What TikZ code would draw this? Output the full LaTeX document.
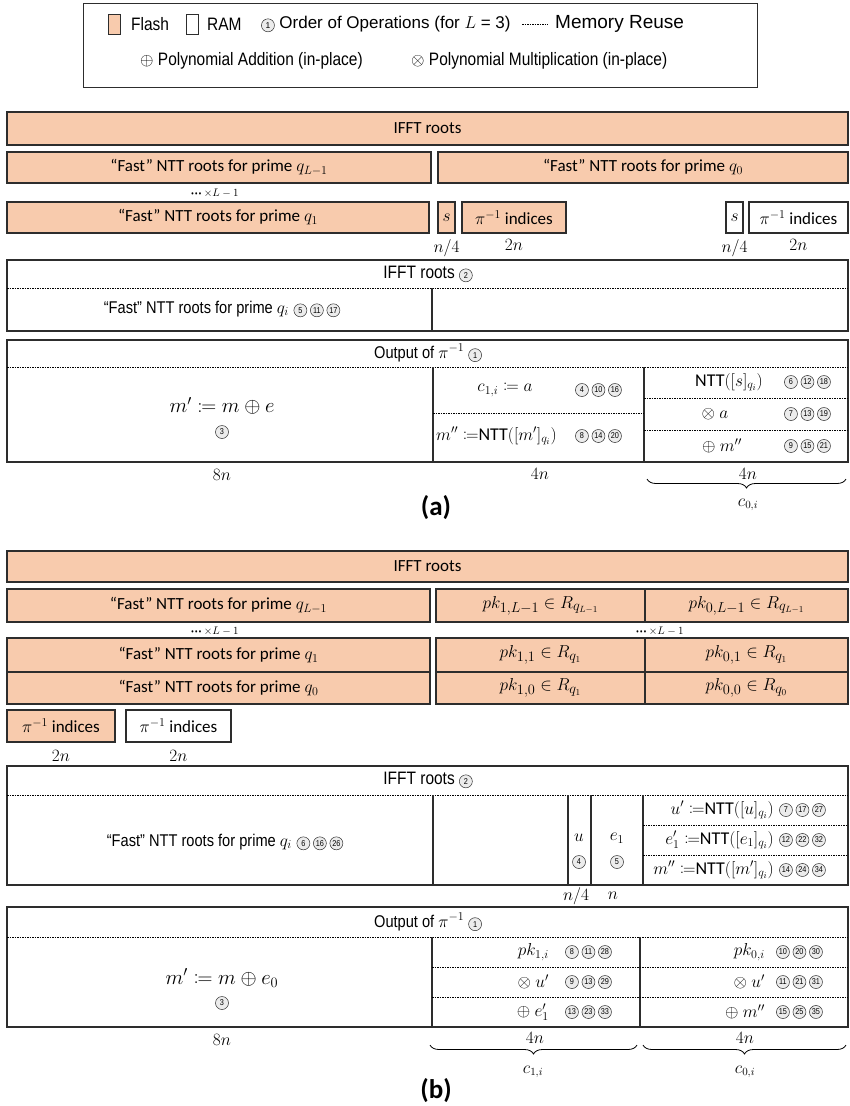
\documentclass[tikz,border=0pt]{standalone}
\usepackage{mathtools}
\usepackage{fontspec}
\setmainfont{Liberation Sans}[FakeStretch=0.86]
\newfontfamily\calib{Carlito}
\newfontfamily\lgdwide{Liberation Sans}
\usetikzlibrary{positioning, decorations.pathreplacing}
\definecolor{flashfill}{RGB}{248,203,173}
\definecolor{edge}{RGB}{45,45,45}
\definecolor{opfill}{RGB}{236,236,236}

% circled order numbers
\newcommand{\opn}[1]{\tikz[baseline=(op.base)]\node[opcirc] (op) {#1};}
\newcommand{\ops}[3]{\opn{#1}\hspace{3pt}\opn{#2}\hspace{3pt}\opn{#3}}
\newcommand{\repl}{{\fontsize{8}{9}\selectfont\textbullet\,\textbullet\,\textbullet}\ $\times L-1$}
\newcommand{\ntt}{{\calib NTT}}

\begin{document}
\begin{tikzpicture}[x=1pt, y=-1pt,
  font=\fontsize{18}{21}\selectfont,
  cellf/.style={draw=edge, line width=1.2pt, fill=flashfill, anchor=north west, inner sep=0pt, outer sep=0pt, font=\calib\fontsize{17}{20}\selectfont},
  cellr/.style={cellf, fill=white},
  pkcell/.style={cellf, font=\fontsize{19}{22}\selectfont},
  blk/.style={draw=edge, line width=1.2pt, anchor=north west, inner sep=0pt, outer sep=0pt},
  reuse/.style={line width=0.6pt, dash pattern=on 1.5pt off 1pt},
  divider/.style={line width=1.2pt, draw=edge},
  sz/.style={font=\fontsize{16}{18}\selectfont, inner sep=0pt},
  small/.style={font=\fontsize{11}{13}\selectfont, inner sep=0pt},
  rootq/.style={font=\fontsize{17}{20}\selectfont},
  bigm/.style={font=\fontsize{20}{23}\selectfont},
  brc/.style={decorate, decoration={brace, mirror, amplitude=9pt}, line width=0.8pt},
  opcirc/.style={circle, draw=edge, fill=opfill, line width=0.5pt, inner sep=0pt, anchor=center, minimum size=13pt, font=\fontsize{8.5}{9}\selectfont},
  tag/.style={font=\calib\bfseries\fontsize{27}{30}\selectfont},
]
\useasboundingbox (0,0) rectangle (849,1106);

% legend
\node[blk, line width=1pt, minimum width=674pt, minimum height=84pt] (legend) at (83,3) {};
\node[cellf, line width=1pt, minimum width=12pt, minimum height=20pt] (keyflash) at (108,14) {};
\node[right=11pt of keyflash, inner sep=0pt] (lflash) {Flash};
\node[cellr, line width=1pt, minimum width=12pt, minimum height=20pt] (keyram) at (186,14) {};
\node[right=9pt of keyram, inner sep=0pt] (lram) {RAM};
\node[anchor=west, inner sep=0pt, font=\lgdwide\fontsize{17}{20}\selectfont] (lorder) at (261,24) {\opn{1}\ Order of Operations (for $L$ = 3)};
\draw[reuse] (522,24) -- (548,24);
\node[anchor=west, inner sep=0pt, font=\lgdwide\fontsize{19}{22}\selectfont] (lreuse) at (555,24) {Memory Reuse};
\node[anchor=west, inner sep=0pt] (ladd) at (140,61) {$\oplus$ Polynomial Addition (in-place)};
\node[anchor=west, inner sep=0pt] (lmul) at (411,61) {$\otimes$ Polynomial Multiplication (in-place)};

% (a) flash
\node[cellf, minimum width=841pt, minimum height=33pt] (iffta) at (7,112) {IFFT roots};
\node[cellf, minimum width=424pt, minimum height=31pt] (nttaL) at (7,152) {“Fast” NTT roots for prime $q_{L-1}$};
\node[cellf, minimum width=410pt, minimum height=31pt] (ntta0) at (438,152) {“Fast” NTT roots for prime $q_0$};
\node[small] (dotsa) at (215,193) {\repl};
\node[cellf, minimum width=422pt, minimum height=31pt] (ntta1) at (7,202) {“Fast” NTT roots for prime $q_1$};
\node[cellf, minimum width=17pt, minimum height=31pt] (sa) at (438,202) {$s$};
\node[cellf, minimum width=104pt, minimum height=31pt] (pia) at (462,202) {$\pi^{-1}$ indices};
\node[sz, below=6pt of sa] (sasz) {$n/4$};
\node[sz, below=6pt of pia] (piasz) {$2n$};
\node[cellr, minimum width=17pt, minimum height=31pt] (sb) at (726,202) {$s$};
\node[cellr, minimum width=99pt, minimum height=31pt] (pib) at (749,202) {$\pi^{-1}$ indices};
\node[sz, below=6pt of sb] (sbsz) {$n/4$};
\node[sz, below=6pt of pib] (pibsz) {$2n$};

% (a) RAM
\node[blk, minimum width=841pt, minimum height=71pt] (ramA1) at (7,260) {};
\node (a1top) at (428,274) {IFFT roots \opn{2}};
\draw[reuse] (7,288) -- (848,288);
\draw[divider] (432,288) -- (ramA1.south -| 432,0);
\node[rootq] (a1ntt) at (222,309) {“Fast” NTT roots for prime $q_i$\;\ops{5}{11}{17}};

\node[blk, minimum width=841pt, minimum height=122pt] (ramA2) at (7,340) {};
\node[font=\fontsize{17}{20}\selectfont] (a2top) at (428,353) {Output of $\pi^{-1}$ \opn{1}};
\draw[reuse] (7,367) -- (848,367);
\draw[divider] (433,367) -- (ramA2.south -| 433,0);
\draw[divider] (644,367) -- (ramA2.south -| 644,0);
\draw[reuse] (433,413) -- (644,413);
\draw[reuse] (644,398) -- (848,398);
\draw[reuse] (644,430) -- (848,430);
\node[bigm] (a2m) at (222,406) {$m' \coloneqq m \oplus e$};
\node (a2m3) at (222,432) {\opn{3}};
\node (a2c) at (505,390) {$c_{1,i} \coloneqq a$};
\node[anchor=west, inner sep=0pt] (a2cop) at (575,390) {\ops{4}{10}{16}};
\node[anchor=west, inner sep=0pt] (a2mm) at (436,436) {$m'' \coloneqq$\ntt$([m']_{q_i})$};
\node[anchor=west, inner sep=0pt] (a2mmop) at (575,436) {\ops{8}{14}{20}};
\node (a2ntt) at (729,382) {\ntt$([s]_{q_i})$};
\node[anchor=west, inner sep=0pt] (a2nttop) at (784,382) {\ops{6}{12}{18}};
\node (a2mul) at (715,414) {$\otimes\ a$};
\node[anchor=west, inner sep=0pt] (a2mulop) at (784,414) {\ops{7}{13}{19}};
\node (a2add) at (722,446) {$\oplus\ m''$};
\node[anchor=west, inner sep=0pt] (a2addop) at (784,446) {\ops{9}{15}{21}};
\node[sz] (a2sz8) at (222,475) {$8n$};
\node[sz] (a2sz4a) at (540,474) {$4n$};
\node[sz] (a2sz4b) at (748,474) {$4n$};
\draw[brc] (647,479) -- (846,479);
\node[sz] (a2c0) at (748,505) {$c_{0,i}$};
\node[tag] (taga) at (436,508) {(a)};

% (b) flash
\node[cellf, minimum width=841pt, minimum height=31pt] (ifftb) at (7,551) {IFFT roots};
\node[cellf, minimum width=423pt, minimum height=33pt] (nttbL) at (7,589) {“Fast” NTT roots for prime $q_{L-1}$};
\node[pkcell, minimum width=209pt, minimum height=33pt] (pk1L) at (436,589) {$pk_{1,L-1} \in R_{q_{L-1}}$};
\node[pkcell, minimum width=203pt, minimum height=33pt] (pk0L) at (645,589) {$pk_{0,L-1} \in R_{q_{L-1}}$};
\node[small] (dotsb1) at (215,631) {\repl};
\node[small] (dotsb2) at (660,631) {\repl};
\node[cellf, minimum width=423pt, minimum height=34pt] (nttb1) at (7,638) {“Fast” NTT roots for prime $q_1$};
\node[pkcell, minimum width=209pt, minimum height=34pt] (pk11) at (436,638) {$pk_{1,1} \in R_{q_1}$};
\node[pkcell, minimum width=203pt, minimum height=34pt] (pk01) at (645,638) {$pk_{0,1} \in R_{q_1}$};
\node[cellf, minimum width=423pt, minimum height=32pt] (nttb0) at (7,672) {“Fast” NTT roots for prime $q_0$};
\node[pkcell, minimum width=209pt, minimum height=32pt] (pk10) at (436,672) {$pk_{1,0} \in R_{q_1}$};
\node[pkcell, minimum width=203pt, minimum height=32pt] (pk00) at (645,672) {$pk_{0,0} \in R_{q_0}$};
\node[cellf, minimum width=108pt, minimum height=32pt] (pic) at (7,710) {$\pi^{-1}$ indices};
\node[cellr, minimum width=105pt, minimum height=32pt] (pid) at (126,710) {$\pi^{-1}$ indices};
\node[sz, below=8pt of pic] (picsz) {$2n$};
\node[sz, below=8pt of pid] (pidsz) {$2n$};

% (b) RAM
\node[blk, minimum width=841pt, minimum height=119pt] (ramB1) at (7,766) {};
\node (b1top) at (428,780) {IFFT roots \opn{2}};
\draw[reuse] (7,795) -- (848,795);
\foreach \xv in {433,568,591,643}
  \draw[divider] (\xv,795) -- (ramB1.south -| \xv,0);
\draw[reuse] (643,825) -- (848,825);
\draw[reuse] (643,855) -- (848,855);
\node[rootq] (b1ntt) at (225,842) {“Fast” NTT roots for prime $q_i$\;\ops{6}{16}{26}};
\node (b1u) at (579,838) {$u$};
\node (b1u4) at (579,862) {\opn{4}};
\node (b1e) at (617,838) {$e_1$};
\node (b1e5) at (617,862) {\opn{5}};
\node[sz] (b1usz) at (576,896) {$n/4$};
\node[sz] (b1esz) at (613,896) {$n$};
\node[anchor=east, inner sep=1pt] (b1u1) at (775,810) {$u' \coloneqq$\ntt$([u]_{q_i})$};
\node[anchor=west, inner sep=0pt] (b1u1op) at (779,810) {\ops{7}{17}{27}};
\node[anchor=east, inner sep=1pt] (b1e1) at (775,840) {$e_1' \coloneqq$\ntt$([e_1]_{q_i})$};
\node[anchor=west, inner sep=0pt] (b1e1op) at (779,840) {\ops{12}{22}{32}};
\node[anchor=east, inner sep=1pt] (b1m1) at (775,870) {$m'' \coloneqq$\ntt$([m']_{q_i})$};
\node[anchor=west, inner sep=0pt] (b1m1op) at (779,870) {\ops{14}{24}{34}};

\node[blk, minimum width=841pt, minimum height=120pt] (ramB2) at (7,907) {};
\node[font=\fontsize{17}{20}\selectfont] (b2top) at (428,922) {Output of $\pi^{-1}$ \opn{1}};
\draw[reuse] (7,937) -- (848,937);
\draw[divider] (432,937) -- (ramB2.south -| 432,0);
\draw[divider] (640,937) -- (ramB2.south -| 640,0);
\draw[reuse] (432,967) -- (848,967);
\draw[reuse] (432,997) -- (848,997);
\node[bigm] (b2m) at (222,978) {$m' \coloneqq m \oplus e_0$};
\node (b2m3) at (222,1003) {\opn{3}};
\node[anchor=east, inner sep=1pt] (b2pk1) at (550,952) {$pk_{1,i}$};
\node[anchor=west, inner sep=0pt] (b2pk1op) at (565,952) {\ops{8}{11}{28}};
\node[anchor=east, inner sep=1pt] (b2mul1) at (550,982) {$\otimes\ u'$};
\node[anchor=west, inner sep=0pt] (b2mul1op) at (565,982) {\ops{9}{13}{29}};
\node[anchor=east, inner sep=1pt] (b2add1) at (550,1012) {$\oplus\ e_1'$};
\node[anchor=west, inner sep=0pt] (b2add1op) at (565,1012) {\ops{13}{23}{33}};
\node[anchor=east, inner sep=1pt] (b2pk0) at (766,952) {$pk_{0,i}$};
\node[anchor=west, inner sep=0pt] (b2pk0op) at (776,952) {\ops{10}{20}{30}};
\node[anchor=east, inner sep=1pt] (b2mul0) at (766,982) {$\otimes\ u'$};
\node[anchor=west, inner sep=0pt] (b2mul0op) at (776,982) {\ops{11}{21}{31}};
\node[anchor=east, inner sep=1pt] (b2add0) at (766,1012) {$\oplus\ m''$};
\node[anchor=west, inner sep=0pt] (b2add0op) at (776,1012) {\ops{15}{25}{35}};
\node[sz] (b2sz8) at (222,1040) {$8n$};
\node[sz] (b2sz4a) at (535,1038) {$4n$};
\node[sz] (b2sz4b) at (745,1038) {$4n$};
\draw[brc] (430,1045) -- (637,1045);
\draw[brc] (643,1045) -- (846,1045);
\node[sz] (b2c1) at (533,1072) {$c_{1,i}$};
\node[sz] (b2c0) at (745,1072) {$c_{0,i}$};
\node[tag] (tagb) at (436,1091) {(b)};
\end{tikzpicture}
\end{document}
